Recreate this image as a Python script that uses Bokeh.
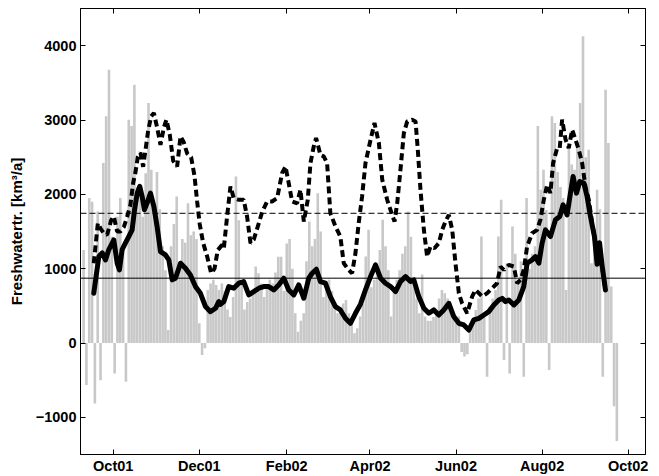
import numpy as np
import pandas as pd
from bokeh.plotting import figure
from bokeh.models import (Range1d, LinearAxis, DatetimeAxis, FixedTicker, MonthsTicker,
                          DatetimeTickFormatter, Span)
from bokeh.embed import file_html
from bokeh.resources import INLINE

# ---------------- data ----------------
ref_date = "2001-10-01"          # day 0
x_start_day, x_end_day = -23.2, 377.3
y_start, y_end = -1500, 4500
y_ticks = [-1000, 0, 1000, 2000, 3000, 4000]
month_ticks = [1, 3, 5, 7, 9, 11]   # Feb, Apr, Jun, Aug, Oct, Dec (0-indexed)

# daily freshwater transport, sampled every 2 days starting at day -21
bar_start_day = -21
bar_step_days = 2
bar_values = [
    1250, -566, 1950, 1900, -813, 1770, -500, 2420, 3050, 3677,
    1430, -409, 1700, 1950, 1300, -520, 3004, 2918, 3475, 2100,
    2100, 1700, 2285, 3230, 2330, 1750, 2300, 1800, 1300, 980,
    175, 1300, 1600, 1970, 1073, 1400, 1350, 1880, 1450, 1500,
    1400, 265, -160, -70, 714, 800, 850, 780, 714, 800,
    700, 450, 350, 620, 2240, 1650, 800, 450, 550, 600,
    700, 1030, 940, 800, 620, 750, 850, 800, 950, 1160,
    1160, 700, 1340, 1400, 1000, 400, 150, 300, 400, 1100,
    1634, 1300, 1400, 2016, 1500, 620, 750, 850, 700, 490,
    400, 450, 530, 580, 400, 265, 130, 200, 355, 530,
    1163, 1522, 750, 850, 980, 1250, 1657, 1300, 980, 355,
    700, 850, 980, 1200, 1300, 1770, 1430, 850, 600, 400,
    920, 355, 300, 300, 350, 400, 600, 714, 670, 600,
    530, 400, 355, 355, -120, -180, -150, 265, 300, 445,
    600, 1432, 355, -453, 490, 600, 714, 1432, 1926, -228,
    1073, -409, 1567, 1200, 850, 1100, -453, 1950, 1000, 1200,
    1300, 2918, 2060, 2330, 1790, -364, 3050, 2960, 2300, 2100,
    1950, 714, 2650, 2400, 2330, 2700, 3230, 4126, 2500, 2600,
    1073, 1520, 2060, 1800, -453, 3408, 2690, 760, -850, -1320,
]

# smoothed series (solid)
solid_days = [
    -13.8, -10.2, -7.8, -5.5, -3.1, 0.4, 2.8, 4.4, 6.3, 8.7,
    11.0, 13.4, 15.1, 17.0, 18.8, 20.5, 22.1, 24.0, 26.4, 28.8,
    31.1, 33.5, 37.0, 39.4, 41.8, 44.1, 47.7, 51.2, 54.7, 58.3,
    61.8, 65.4, 68.9, 72.5, 74.8, 76.0, 78.4, 81.9, 85.4, 89.0,
    92.5, 96.1, 99.6, 103.2, 106.7, 110.2, 113.8, 117.3, 120.9, 124.4,
    128.0, 131.5, 135.1, 138.6, 141.0, 144.0, 146.9, 150.4, 153.9, 157.5,
    161.0, 164.6, 168.1, 171.7, 175.2, 178.8, 182.4, 185.9, 189.5, 193.0,
    196.6, 200.1, 203.6, 207.2, 210.7, 213.1, 216.6, 220.2, 223.7, 227.3,
    230.8, 234.3, 237.9, 241.4, 245.0, 248.5, 252.1, 255.6, 259.2, 262.7,
    266.2, 269.8, 273.3, 275.7, 278.1, 280.4, 284.0, 287.5, 291.0, 293.4,
    296.9, 299.3, 301.7, 304.0, 306.4, 309.9, 313.5, 316.5, 318.9, 321.7,
    324.1, 326.0, 328.4, 330.7, 333.6, 335.9, 338.3, 341.1, 343.0, 344.7,
    346.5, 348.9,
]
solid_values = [
    669, 1163, 1212, 1118, 1257, 1387, 1073, 983, 1257, 1347,
    1432, 1522, 1792, 2016, 2106, 1971, 1792, 1882, 2016, 1837,
    1567, 1230, 1186, 1118, 849, 871, 1073, 1006, 916, 759,
    669, 490, 422, 467, 557, 520, 557, 759, 737, 804,
    826, 647, 692, 737, 759, 759, 714, 781, 871, 714,
    647, 781, 602, 871, 938, 992, 826, 804, 624, 489,
    445, 332, 265, 400, 520, 714, 893, 1051, 871, 804,
    759, 692, 826, 893, 826, 849, 624, 467, 400, 445,
    377, 445, 534, 355, 265, 243, 175, 310, 332, 377,
    422, 512, 579, 600, 557, 579, 512, 579, 759, 1073,
    1118, 1163, 1073, 1342, 1522, 1432, 1657, 1702, 1859, 1724,
    2016, 2241, 2016, 2173, 2151, 1971, 1702, 1432, 1060, 1350,
    1050, 714,
]

# second series (dashed)
dashed_days = [
    -13.8, -10.9, -9.0, -6.7, -4.3, -1.5, 0.4, 2.8, 5.1, 7.5,
    9.9, 12.2, 14.1, 15.8, 17.4, 19.3, 21.2, 22.9, 24.7, 26.9,
    28.8, 31.1, 33.5, 35.9, 37.7, 40.1, 42.5, 45.3, 47.7, 50.0,
    52.4, 55.2, 57.6, 59.5, 61.3, 63.7, 66.6, 69.4, 71.8, 74.1,
    77.2, 78.4, 80.7, 83.1, 85.4, 89.0, 92.5, 94.9, 97.3, 99.6,
    103.2, 105.5, 109.1, 112.6, 116.2, 119.7, 122.1, 124.4, 126.8, 130.3,
    132.7, 135.1, 137.9, 139.8, 142.1, 143.8, 146.9, 149.2, 151.6, 153.9,
    157.5, 161.0, 163.4, 166.9, 169.3, 171.7, 174.0, 176.4, 178.8, 182.4,
    185.2, 188.3, 190.7, 194.2, 197.7, 199.4, 201.3, 203.6, 206.0, 208.4,
    211.9, 214.3, 215.9, 217.8, 220.2, 222.5, 224.9, 227.7, 230.8, 233.2,
    235.5, 237.9, 240.3, 242.6, 245.0, 247.3, 250.9, 254.4, 256.8, 259.2,
    261.5, 265.1, 268.6, 272.1, 274.5, 276.9, 280.4, 284.0, 286.3, 288.7,
    291.0, 293.4, 296.9, 300.5, 302.8, 305.2, 307.6, 309.9, 311.8, 314.7,
    316.5, 318.2, 320.6, 322.9, 325.3, 327.6, 330.0, 332.4, 334.7, 337.1,
    339.5, 341.8, 344.2, 346.5, 348.9,
]
dashed_values = [
    1073, 1612, 1540, 1477, 1455, 1650, 1702, 1500, 1500, 1560,
    1700, 1860, 2150, 2300, 2500, 2560, 2370, 2600, 2850, 3050,
    3094, 2900, 2667, 2900, 3004, 2800, 2450, 2375, 2780, 2700,
    2550, 2500, 2250, 1900, 1600, 1350, 1163, 938, 1000, 1250,
    1320, 1275, 1700, 2106, 1950, 1926, 1926, 1700, 1343, 1390,
    1612, 1760, 1904, 1904, 1950, 2285, 2375, 2150, 1904, 1880,
    2061, 1634, 1926, 2420, 2640, 2757, 2530, 2510, 2420, 1747,
    1570, 1432, 1073, 983, 938, 1208, 1612, 1971, 2420, 2734,
    2959, 2690, 2196, 1926, 1724, 1634, 1880, 2330, 2824, 2981,
    3004, 2981, 2600, 2061, 1522, 1163, 1298, 1275, 1343, 1522,
    1634, 1724, 1522, 1073, 669, 534, 400, 624, 714, 670,
    624, 670, 737, 804, 1028, 983, 1050, 1028, 804, 850,
    983, 1298, 1477, 1522, 1657, 1926, 2128, 2016, 2420, 2622,
    2622, 3004, 2740, 2622, 2869, 2740, 2600, 2420, 2106, 1926,
    1612, 1343, 1163, 1028, 714,
]

mean_level = 872
double_level = 1745

# ---------------- helpers ----------------
t0 = pd.Timestamp(ref_date)


def to_dt(days):
    return (t0 + pd.to_timedelta(np.asarray(days, dtype=float), unit="D")).to_pydatetime()


def to_dt1(day):
    return (t0 + pd.to_timedelta(day, unit="D")).to_pydatetime()


bar_x = to_dt(bar_start_day + bar_step_days * np.arange(len(bar_values)))
ms_per_day = 86400000.0

FONT = "Liberation Sans"

p = figure(width=659, height=476, x_axis_type="datetime",
           x_range=Range1d(to_dt1(x_start_day), to_dt1(x_end_day)),
           y_range=Range1d(y_start, y_end),
           output_backend="svg", toolbar_location=None,
           min_border=0, min_border_left=80, min_border_right=14,
           min_border_top=8, min_border_bottom=22)

bottom_axis = p.below[0]
left_axis = p.left[0]

p.xgrid.visible = False
p.ygrid.visible = False
p.outline_line_color = "black"
p.outline_line_width = 1
p.background_fill_color = "white"
p.border_fill_color = "white"

# bars
p.vbar(x=bar_x, top=bar_values, bottom=0, width=bar_step_days * ms_per_day * 0.92,
       fill_color="#c8c8c8", line_color=None)

# reference levels
p.add_layout(Span(location=mean_level, dimension="width", line_color="black", line_width=1))
p.add_layout(Span(location=double_level, dimension="width", line_color="black",
                  line_width=1, line_dash="6 3"))

# series
p.line(to_dt(dashed_days), dashed_values, line_color="black", line_width=4,
       line_dash="7 4")
p.line(to_dt(solid_days), solid_values, line_color="black", line_width=5,
       line_join="round", line_cap="round")

# axes
bottom_axis.ticker = MonthsTicker(months=month_ticks)
bottom_axis.formatter = DatetimeTickFormatter(days="%b%y", months="%b%y", years="%b%y")
left_axis.ticker = FixedTicker(ticks=y_ticks)
left_axis.major_label_overrides = {-1000: "\u22121000"}

top_axis = DatetimeAxis(ticker=MonthsTicker(months=month_ticks),
                        major_label_text_font_size="1px", major_label_text_color=None,
                        major_label_standoff=0)
right_axis = LinearAxis(ticker=FixedTicker(ticks=y_ticks),
                        major_label_text_font_size="1px", major_label_text_color=None,
                        major_label_standoff=0)
p.add_layout(top_axis, "above")
p.add_layout(right_axis, "right")

for ax in [bottom_axis, left_axis, top_axis, right_axis]:
    ax.major_tick_in = 5
    ax.major_tick_out = 0
    ax.minor_tick_in = 0
    ax.minor_tick_out = 0
    ax.axis_line_color = "black"
    ax.major_tick_line_color = "black"
    ax.minor_tick_line_color = None

for ax in [bottom_axis, left_axis]:
    ax.major_label_text_font = FONT
    ax.major_label_text_font_style = "bold"
    ax.major_label_text_font_size = "14.5px"
    ax.major_label_text_color = "black"

bottom_axis.major_label_standoff = 3
left_axis.major_label_standoff = 4
left_axis.axis_label = "Freshwatertr. [km\u00b3/a]"
left_axis.axis_label_text_font = FONT
left_axis.axis_label_text_font_style = "bold"
left_axis.axis_label_text_font_size = "15px"
left_axis.axis_label_text_color = "black"
left_axis.axis_label_standoff = 8

open("out.html", "w").write(file_html(p, INLINE))
